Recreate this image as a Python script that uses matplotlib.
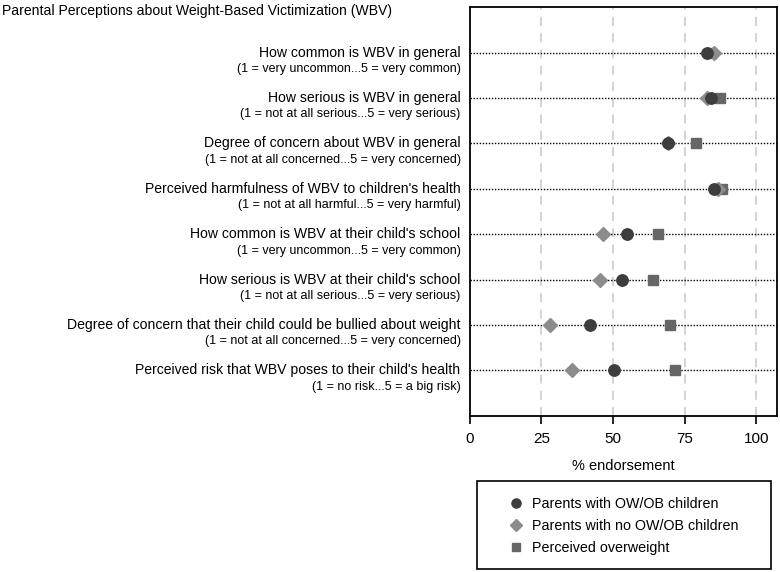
import matplotlib
matplotlib.use('Agg')
import matplotlib.pyplot as plt
from matplotlib.patches import Rectangle

plt.rcParams['font.family'] = ['Liberation Sans', 'DejaVu Sans']

# data
items = [
    'How common is WBV in general',
    'How serious is WBV in general',
    'Degree of concern about WBV in general',
    "Perceived harmfulness of WBV to children's health",
    "How common is WBV at their child's school",
    "How serious is WBV at their child's school",
    'Degree of concern that their child could be bullied about weight',
    "Perceived risk that WBV poses to their child's health",
]
scales = [
    '(1 = very uncommon...5 = very common)',
    '(1 = not at all serious...5 = very serious)',
    '(1 = not at all concerned...5 = very concerned)',
    '(1 = not at all harmful...5 = very harmful)',
    '(1 = very uncommon...5 = very common)',
    '(1 = not at all serious...5 = very serious)',
    '(1 = not at all concerned...5 = very concerned)',
    '(1 = no risk...5 = a big risk)',
]
perceived_ow = [84.0, 87.4, 78.9, 88.0, 65.6, 64.1, 69.9, 71.7]
no_owob = [85.3, 82.9, 69.1, 86.6, 46.4, 45.5, 28.0, 35.6]
owob = [82.7, 84.1, 69.1, 85.1, 54.8, 53.1, 42.0, 50.4]

fig = plt.figure(figsize=(7.8, 5.72), dpi=100)
ax = fig.add_axes([0.6022, 0.2733, 0.394, 0.7139])

rows = list(range(1, len(items) + 1))

for r in rows:
    ax.axhline(r, color='black', linestyle=(0, (1, 1.2)), linewidth=1.0, zorder=1)
for g in [25, 50, 75, 100]:
    ax.axvline(g, color='#d0d0d0', linestyle=(0, (5, 4)), linewidth=1.3, zorder=0)

ax.plot(perceived_ow, rows, 's', color='#666666', markersize=7.8, label='Perceived overweight', zorder=3)
ax.plot(no_owob, rows, 'D', color='#8c8c8c', markersize=7.5, label='Parents with no OW/OB children', zorder=4)
ax.plot(owob, rows, 'o', color='#3d3d3d', markersize=8.2, label='Parents with OW/OB children', zorder=5)

ax.set_xlim(0, 107.2)
ax.set_ylim(9, 0)
ax.set_yticks([])
ax.set_xticks([0, 25, 50, 75, 100])
ax.tick_params(axis='x', direction='out', length=6, width=1.2, labelsize=11, pad=6)
ax.set_xlabel('% endorsement', fontsize=10.5, labelpad=9)
for s in ax.spines.values():
    s.set_linewidth(1.3)

for r, name, sc in zip(rows, items, scales):
    ax.text(-3.2, r, name, ha='right', va='center', fontsize=10.1, clip_on=False)
    ax.text(-3.2, r + 0.36, sc, ha='right', va='center', fontsize=9.0, clip_on=False)

fig.text(0.002, 0.981, 'Parental Perceptions about Weight-Based Victimization (WBV)',
         ha='left', va='center', fontsize=10.1)

h, l = ax.get_legend_handles_labels()
order = [2, 1, 0]
fig.legend([h[i] for i in order], [l[i] for i in order], loc='center',
           bbox_to_anchor=(624 / 780, 1 - 526 / 572), frameon=False, fontsize=10.3,
           handletextpad=0.6, labelspacing=0.55, handlelength=1.0, markerscale=0.8)
fig.patches.append(Rectangle((477 / 780, 1 - 569 / 572), 294 / 780, 88 / 572,
                             transform=fig.transFigure, fill=False, edgecolor='black',
                             linewidth=1.2))

fig.savefig('out.png', dpi=100)
